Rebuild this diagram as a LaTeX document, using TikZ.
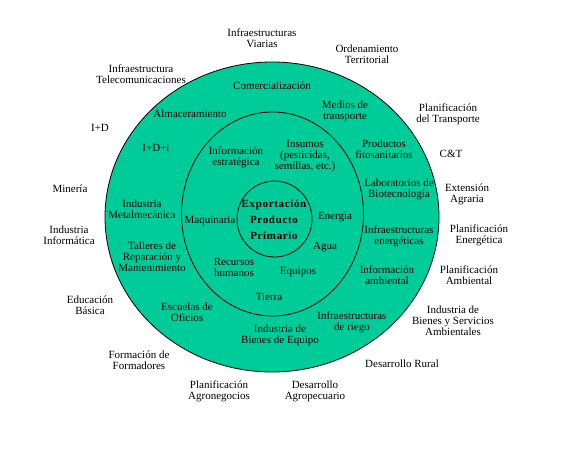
\documentclass[tikz,border=0pt]{standalone}
\usepackage{fontspec}
\setmainfont{Liberation Serif}
\definecolor{verde}{RGB}{0,204,153}

\begin{document}
\begin{tikzpicture}[x=1pt, y=-1pt,
  ring/.style={draw, line width=0.8pt, fill=verde},
  lbl/.style={align=center, inner sep=0pt, font=\fontsize{11}{11}\selectfont},
  core/.style={align=center, inner sep=0pt, font=\fontsize{11}{16}\selectfont\bfseries\addfontfeatures{LetterSpace=6}}
]
\useasboundingbox (0,0) rectangle (567,453);

% Anillos
\draw[ring] (272,217) ellipse [x radius=167pt, y radius=155pt];
\draw[ring] (272.5,214) ellipse [x radius=91pt, y radius=102pt];
\draw[ring] (274.5,219) ellipse [x radius=37.5pt, y radius=38pt];

% Centro
\node[core] (exportacion) at (274,220) {Exportación\\Producto\\Primario};

% Anillo interior
\node[lbl] (infoEstrategica) at (236,157) {Información\\estratégica};
\node[lbl] (insumos) at (305,156) {Insumos\\(pesticidas,\\semillas, etc.)};
\node[lbl] (maquinaria) at (210,221) {Maquinaria};
\node[lbl] (energia) at (335,217) {Energía};
\node[lbl] (agua) at (325,247) {Agua};
\node[lbl] (recursos) at (234,267) {Recursos\\humanos};
\node[lbl] (equipos) at (298,272) {Equipos};
\node[lbl] (tierra) at (269,297) {Tierra};

% Anillo exterior
\node[lbl] (comercializacion) at (272,86) {Comercialización};
\node[lbl] (almacenamiento) at (190,114) {Almaceramiento};
\node[lbl] (idi) at (156,148) {I+D+i};
\node[lbl] (metalmecanica) at (142,209) {Industria\\Metalmecánica};
\node[lbl] (talleres) at (152,257) {Talleres de\\Reparación y\\Mantenimiento};
\node[lbl] (escuelas) at (187,312) {Escuelas de\\Oficios};
\node[lbl] (bienesEquipo) at (280,335) {Industria de\\Bienes de Equipo};
\node[lbl] (riego) at (352,322) {Infraestructuras\\de riego};
\node[lbl] (infoAmbiental) at (387,275) {Información\\ambiental};
\node[lbl] (infraEnergia) at (399,236) {Infraestructuras\\energéticas};
\node[lbl] (laboratorios) at (399,189) {Laboratorios de\\Biotecnología};
\node[lbl] (fitosanitarios) at (384,149) {Productos\\fitosanitarios};
\node[lbl] (medios) at (345,111) {Medios de\\transporte};

% Entorno
\node[lbl] (viarias) at (262,38) {Infraestructuras\\Viarias};
\node[lbl] (ordenamiento) at (367,54) {Ordenamiento\\Territorial};
\node[lbl] (telecom) at (141,74) {Infraestructura\\Telecomunicaciones};
\node[lbl] (planTransporte) at (448,114) {Planificación\\del Transporte};
\node[lbl] (id) at (100,128) {I+D};
\node[lbl] (ct) at (451,154) {C\&T};
\node[lbl] (mineria) at (70,189) {Minería};
\node[lbl] (extension) at (467,194) {Extensión\\Agraria};
\node[lbl] (informatica) at (69,235) {Industria\\Informática};
\node[lbl] (planEnergia) at (479,235) {Planificación\\Energética};
\node[lbl] (planAmbiental) at (469,275) {Planificación\\Ambiental};
\node[lbl] (educacion) at (90,305) {Educación\\Básica};
\node[lbl] (bienesServicios) at (453,321) {Industria de\\Bienes y Servicios\\Ambientales};
\node[lbl] (formacion) at (139,360) {Formación de\\Formadores};
\node[lbl] (rural) at (402,364) {Desarrollo Rural};
\node[lbl] (agronegocios) at (219,391) {Planificación\\Agronegocios};
\node[lbl] (agropecuario) at (315,391) {Desarrollo\\Agropecuario};

\end{tikzpicture}
\end{document}
